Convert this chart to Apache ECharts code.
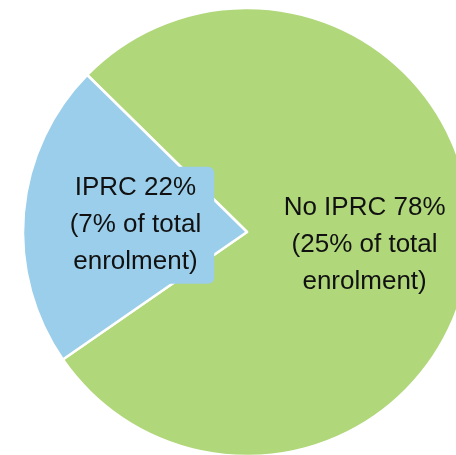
<!DOCTYPE html>
<html>
<head>
<meta charset="utf-8">
<script src="https://cdn.jsdelivr.net/npm/echarts@6/dist/echarts.min.js"></script>
<style>
  html, body { margin: 0; padding: 0; background: #fff; }
  #chart { width: 456px; height: 455px; }
</style>
</head>
<body>
<div id="chart"></div>
<script>
// Students with / without an IPRC, share of the group and of total enrolment
const categories = ['No IPRC', 'IPRC'];
const groupShare = [78, 22];
const totalShare = [25, 7];

const sliceColors = ['#B0D77A', '#9BCEEA'];

const chart = echarts.init(document.getElementById('chart'), null, { renderer: 'canvas' });

const data = categories.map((name, i) => {
  const item = {
    name: name,
    value: groupShare[i],
    total: totalShare[i],
    itemStyle: { color: sliceColors[i] }
  };
  if (name === 'IPRC') {
    item.label = {
      backgroundColor: sliceColors[i],
      borderRadius: 6,
      padding: [3, 13, 3, 11],
      offset: [4, 3]
    };
  } else {
    item.label = { offset: [3, 3] };
  }
  return item;
});

chart.setOption({
  animation: false,
  series: [{
    type: 'pie',
    center: [247, 232],
    radius: 224,
    startAngle: 135.5,
    clockwise: true,
    avoidLabelOverlap: false,
    itemStyle: { borderColor: '#ffffff', borderWidth: 2.5 },
    label: {
      show: true,
      position: 'inside',
      color: '#111111',
      fontFamily: 'Liberation Sans, Arial, sans-serif',
      fontSize: 26,
      lineHeight: 37,
      align: 'center',
      formatter: p => `${p.name} ${p.value}%\n(${p.data.total}% of total\nenrolment)`
    },
    labelLine: { show: false },
    emphasis: { disabled: true },
    data: data
  }]
});
</script>
</body>
</html>
